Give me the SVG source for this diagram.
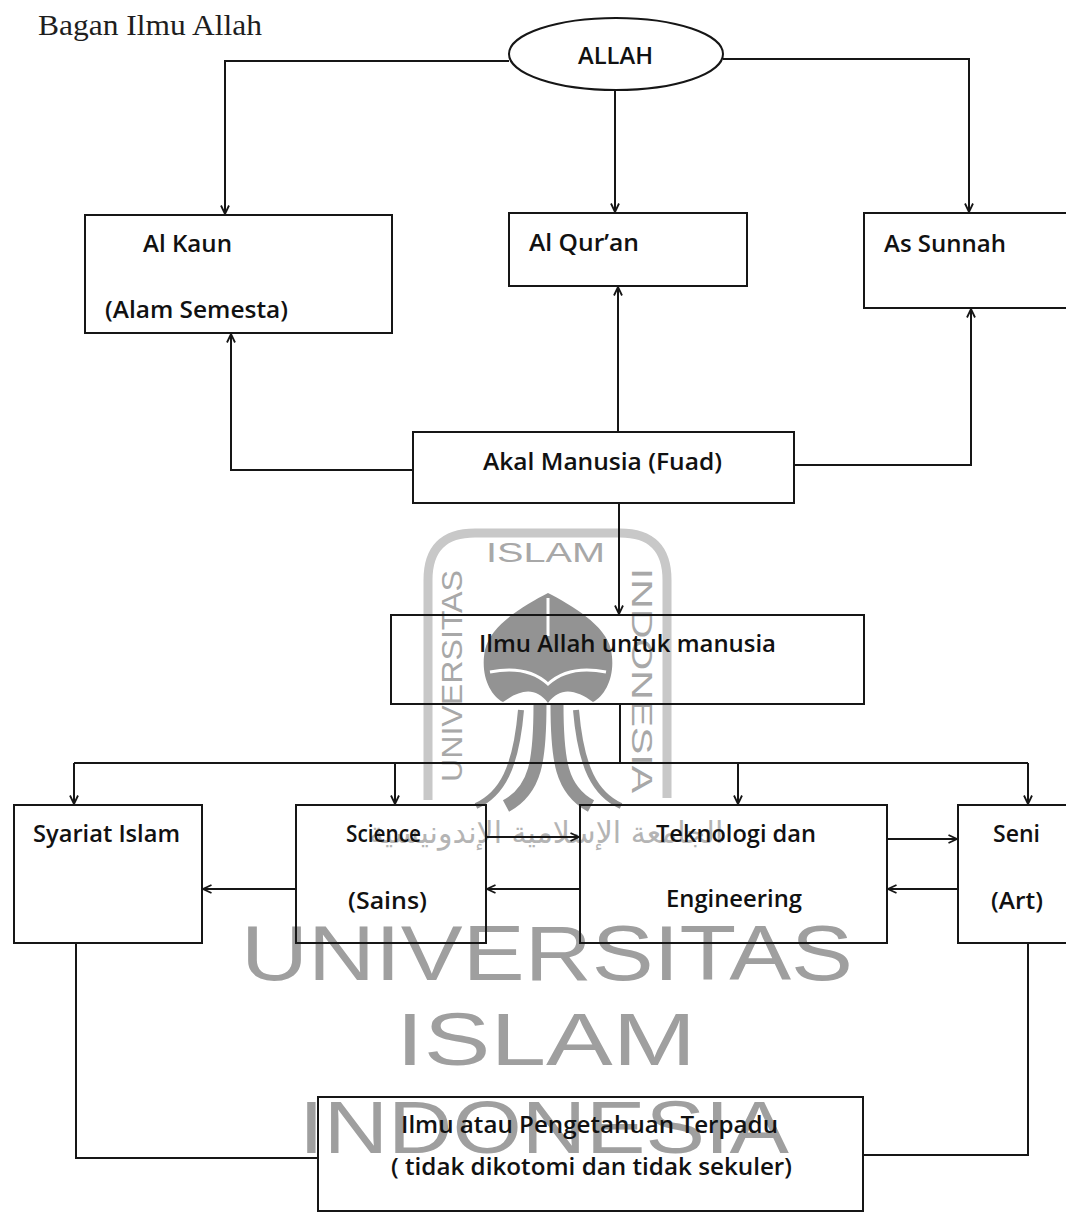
<svg xmlns="http://www.w3.org/2000/svg" width="1066" height="1214" viewBox="0 0 1066 1214">
<style>
.box{fill:none;stroke:#161616;stroke-width:2}
.conn{fill:none;stroke:#161616;stroke-width:2}
.lbl{font-family:"Open Sans","Liberation Sans",sans-serif;font-size:24px;font-weight:600;fill:#111}
.wm{font-family:"Liberation Sans",Arial,sans-serif;fill:#9f9f9f}
.wms{font-family:"Liberation Sans",Arial,sans-serif;fill:#a8a8a8}
.title{font-family:"Liberation Serif","Times New Roman",serif;font-size:30px;fill:#1e1e1e}
</style>
<defs>
<marker id="arr" viewBox="0 0 10 10" refX="9.5" refY="5" markerWidth="10" markerHeight="10" markerUnits="userSpaceOnUse" orient="auto">
<path d="M1,1 L9.5,5 L1,9" fill="none" stroke="#161616" stroke-width="1.8"/>
</marker>
</defs>
<rect width="1066" height="1214" fill="#ffffff"/>

<g id="watermark">
<path d="M428,800 V580 Q428,533 475,533 H620 Q667,533 667,580 V798" fill="none" stroke="#c8c8c8" stroke-width="9"/>
<text class="wms" x="486" y="562" font-size="28" textLength="119" lengthAdjust="spacingAndGlyphs">ISLAM</text>
<text class="wms" transform="translate(462,782) rotate(-90)" font-size="30" textLength="212" lengthAdjust="spacingAndGlyphs">UNIVERSITAS</text>
<text class="wms" transform="translate(632,568) rotate(90)" font-size="30" textLength="225" lengthAdjust="spacingAndGlyphs">INDONESIA</text>
<g id="emblem" fill="#939393">
<path d="M548,593 C525,605 490,625 485,650 C480,675 490,695 503,702 C520,690 535,686 548,703 C561,686 576,690 593,702 C606,695 616,675 611,650 C606,625 571,605 548,593 Z"/>
<path d="M548,598 V636" stroke="#ffffff" stroke-width="3" fill="none"/>
<path d="M490,672 C515,667 535,672 548,684 C561,672 581,667 606,672" stroke="#ffffff" stroke-width="3" fill="none"/>
<path d="M540,704 C540,760 536,790 506,806" stroke="#939393" stroke-width="13" fill="none"/>
<path d="M557,704 C557,760 561,790 591,806" stroke="#939393" stroke-width="13" fill="none"/>
<path d="M521,710 C516,768 502,794 476,806" stroke="#939393" stroke-width="6" fill="none"/>
<path d="M576,710 C581,768 595,794 621,806" stroke="#939393" stroke-width="6" fill="none"/>
</g>
<text x="546" y="843" text-anchor="middle" font-family="'DejaVu Sans',sans-serif" font-size="30" fill="#b4b4b4">الجامعة الإسلامية الإندونيسية</text>
<text class="wm" x="241" y="980" font-size="77" textLength="612" lengthAdjust="spacingAndGlyphs">UNIVERSITAS</text>
<text class="wm" x="396" y="1065" font-size="74" textLength="300" lengthAdjust="spacingAndGlyphs">ISLAM</text>
<text class="wm" x="299" y="1153" font-size="74" textLength="490" lengthAdjust="spacingAndGlyphs">INDONESIA</text>
</g>

<text class="title" x="38" y="35" textLength="224" lengthAdjust="spacingAndGlyphs">Bagan Ilmu Allah</text>

<g id="connectors">
<path class="conn" d="M509,61 H225 V214" marker-end="url(#arr)"/>
<path class="conn" d="M615,90 V212" marker-end="url(#arr)"/>
<path class="conn" d="M723,59 H969 V212" marker-end="url(#arr)"/>
<path class="conn" d="M413,470 H231 V334" marker-end="url(#arr)"/>
<path class="conn" d="M618,432 V287" marker-end="url(#arr)"/>
<path class="conn" d="M794,465 H971 V309" marker-end="url(#arr)"/>
<path class="conn" d="M619,503 V614" marker-end="url(#arr)"/>
<path class="conn" d="M620,704 V763"/>
<path class="conn" d="M74,763 H1028"/>
<path class="conn" d="M74,763 V804" marker-end="url(#arr)"/>
<path class="conn" d="M395,763 V804" marker-end="url(#arr)"/>
<path class="conn" d="M738,763 V804" marker-end="url(#arr)"/>
<path class="conn" d="M1028,763 V804" marker-end="url(#arr)"/>
<path class="conn" d="M296,889 H203" marker-end="url(#arr)"/>
<path class="conn" d="M486,837 H579" marker-end="url(#arr)"/>
<path class="conn" d="M580,889 H487" marker-end="url(#arr)"/>
<path class="conn" d="M887,839 H957" marker-end="url(#arr)"/>
<path class="conn" d="M958,889 H888" marker-end="url(#arr)"/>
<path class="conn" d="M76,943 V1158 H318"/>
<path class="conn" d="M1028,943 V1155 H863"/>
</g>

<g id="node-allah">
<ellipse class="box" cx="616" cy="54" rx="107" ry="36"/>
<text class="lbl" x="578" y="64" textLength="75" lengthAdjust="spacingAndGlyphs">ALLAH</text>
</g>
<g id="node-alkaun">
<rect class="box" x="85" y="215" width="307" height="118"/>
<text class="lbl" x="143" y="252" textLength="89" lengthAdjust="spacingAndGlyphs">Al Kaun</text>
<text class="lbl" x="105" y="318" textLength="183" lengthAdjust="spacingAndGlyphs">(Alam Semesta)</text>
</g>
<g id="node-alquran">
<rect class="box" x="509" y="213" width="238" height="73"/>
<text class="lbl" x="529" y="251" textLength="110" lengthAdjust="spacingAndGlyphs">Al Qur’an</text>
</g>
<g id="node-assunnah">
<rect class="box" x="864" y="213" width="215" height="95"/>
<text class="lbl" x="884" y="252" textLength="122" lengthAdjust="spacingAndGlyphs">As Sunnah</text>
</g>
<g id="node-akal">
<rect class="box" x="413" y="432" width="381" height="71"/>
<text class="lbl" x="483" y="470" textLength="239" lengthAdjust="spacingAndGlyphs">Akal Manusia (Fuad)</text>
</g>
<g id="node-ilmu">
<rect class="box" x="391" y="615" width="473" height="89"/>
<text class="lbl" x="479" y="652" textLength="297" lengthAdjust="spacingAndGlyphs">Ilmu Allah untuk manusia</text>
</g>
<g id="node-syariat">
<rect class="box" x="14" y="805" width="188" height="138"/>
<text class="lbl" x="33" y="842" textLength="147" lengthAdjust="spacingAndGlyphs">Syariat Islam</text>
</g>
<g id="node-science">
<rect class="box" x="296" y="805" width="190" height="138"/>
<text class="lbl" x="346" y="842" textLength="75" lengthAdjust="spacingAndGlyphs">Science</text>
<text class="lbl" x="348" y="909" textLength="79" lengthAdjust="spacingAndGlyphs">(Sains)</text>
</g>
<g id="node-teknologi">
<rect class="box" x="580" y="805" width="307" height="138"/>
<text class="lbl" x="656" y="842" textLength="160" lengthAdjust="spacingAndGlyphs">Teknologi dan</text>
<text class="lbl" x="666" y="907" textLength="136" lengthAdjust="spacingAndGlyphs">Engineering</text>
</g>
<g id="node-seni">
<rect class="box" x="958" y="805" width="120" height="138"/>
<text class="lbl" x="993" y="842" textLength="47" lengthAdjust="spacingAndGlyphs">Seni</text>
<text class="lbl" x="991" y="909" textLength="52" lengthAdjust="spacingAndGlyphs">(Art)</text>
</g>
<g id="node-terpadu">
<rect class="box" x="318" y="1097" width="545" height="114"/>
<text class="lbl" x="401" y="1133" textLength="377" lengthAdjust="spacingAndGlyphs">Ilmu atau Pengetahuan Terpadu</text>
<text class="lbl" x="391" y="1175" textLength="401" lengthAdjust="spacingAndGlyphs">( tidak dikotomi dan tidak sekuler)</text>
</g>
</svg>
